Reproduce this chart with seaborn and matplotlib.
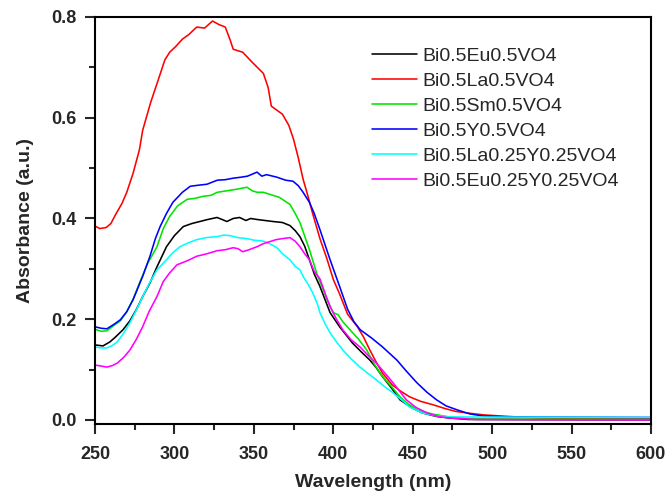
import pandas as pd
import seaborn as sns
import matplotlib.pyplot as plt
from matplotlib.ticker import AutoMinorLocator, MultipleLocator

# Données (longueur d'onde en nm, absorbance en u.a.)
names = ['Bi0.5Eu0.5VO4', 'Bi0.5La0.5VO4', 'Bi0.5Sm0.5VO4', 'Bi0.5Y0.5VO4',
         'Bi0.5La0.25Y0.25VO4', 'Bi0.5Eu0.25Y0.25VO4']
colors = ['#000000', '#ff0000', '#00e600', '#0000ff', '#00ffff', '#ff00ff']

wl_eu = [250, 255, 259.4, 263, 267.6, 272, 276, 280, 284.6, 289, 295, 300, 305.6, 311, 316, 321,
         326.8, 330, 333, 337, 341, 345, 348, 352, 357, 362, 368, 372.7, 376, 379, 382, 385, 388,
         391.6, 398, 404, 412, 418, 423, 427, 431, 437, 442, 449, 456, 465, 473, 485, 600]
abs_eu = [0.149, 0.147, 0.155, 0.165, 0.179, 0.197, 0.219, 0.245, 0.272, 0.304, 0.344, 0.366,
          0.384, 0.39, 0.394, 0.398, 0.402, 0.398, 0.394, 0.4, 0.402, 0.396, 0.4, 0.398, 0.396,
          0.394, 0.392, 0.386, 0.376, 0.364, 0.345, 0.318, 0.29, 0.265, 0.213, 0.185, 0.153,
          0.134, 0.119, 0.104, 0.086, 0.062, 0.04, 0.025, 0.014, 0.007, 0.004, 0.001, 0.0]

wl_la = [250, 253, 257, 260, 263, 267, 270, 274, 278, 280, 285, 290, 294, 297, 301, 305, 309,
         314, 319, 324, 328, 332, 335, 337, 343, 349, 356, 359, 361, 368, 372, 375, 378, 381,
         384, 387, 391.6, 396, 400, 404, 409, 415, 419, 423, 427, 431, 437, 442, 448, 455, 463,
         470, 477, 484, 495, 505, 516, 530, 560, 600]
abs_la = [0.385, 0.38, 0.382, 0.39, 0.408, 0.43, 0.452, 0.49, 0.537, 0.575, 0.63, 0.677, 0.715,
          0.73, 0.742, 0.756, 0.765, 0.78, 0.778, 0.792, 0.785, 0.78, 0.755, 0.736, 0.73, 0.71,
          0.688, 0.66, 0.623, 0.607, 0.585, 0.557, 0.52, 0.478, 0.445, 0.41, 0.36, 0.32, 0.279,
          0.25, 0.21, 0.186, 0.165, 0.139, 0.115, 0.093, 0.07, 0.058, 0.046, 0.037, 0.03, 0.023,
          0.017, 0.014, 0.01, 0.008, 0.006, 0.004, 0.003, 0.003]

wl_sm = [250, 254, 257.5, 262, 266, 270, 274, 278, 283, 289, 293, 297, 302, 308, 313, 318, 323,
         327, 333, 339, 345.7, 349, 352, 356, 360, 366, 372.7, 376, 379, 382, 385, 389.7, 396,
         400, 403, 406, 410.5, 416, 421, 426, 431, 437, 442, 447, 453, 462, 473, 490, 600]
abs_sm = [0.18, 0.176, 0.177, 0.188, 0.197, 0.215, 0.24, 0.272, 0.31, 0.344, 0.38, 0.404, 0.425,
          0.438, 0.44, 0.444, 0.446, 0.452, 0.455, 0.458, 0.462, 0.455, 0.452, 0.452, 0.448,
          0.442, 0.428, 0.41, 0.392, 0.365, 0.338, 0.29, 0.239, 0.213, 0.209, 0.195, 0.179, 0.16,
          0.139, 0.11, 0.086, 0.065, 0.046, 0.032, 0.02, 0.012, 0.006, 0.002, 0.001]

wl_y = [250, 254, 257.5, 262, 266, 270, 274, 277, 280, 284.6, 288, 291, 295, 299, 305, 310, 315,
        320.5, 327, 332, 337, 342, 346, 352, 355, 358, 364.5, 370, 374.6, 378, 381, 385, 388,
        391.6, 398, 404, 409, 413, 417, 424, 431, 440, 446, 452.6, 459, 465, 471, 478, 486, 494,
        510, 600]
abs_y = [0.185, 0.182, 0.181, 0.19, 0.199, 0.215, 0.239, 0.262, 0.285, 0.325, 0.36, 0.384, 0.41,
         0.432, 0.452, 0.464, 0.466, 0.468, 0.476, 0.477, 0.48, 0.482, 0.484, 0.492, 0.484,
         0.487, 0.482, 0.476, 0.474, 0.465, 0.452, 0.432, 0.41, 0.378, 0.318, 0.265, 0.22, 0.195,
         0.179, 0.163, 0.145, 0.119, 0.097, 0.074, 0.055, 0.04, 0.028, 0.02, 0.012, 0.008, 0.006,
         0.005]

wl_lay = [250, 254, 257.5, 261, 264, 268, 272, 276, 280, 284, 289, 295, 299, 303.5, 309, 314, 320,
          326.8, 331, 335, 340, 345.7, 350, 356, 360, 364.5, 368, 372.7, 376, 379, 381, 384, 387,
          390, 391.6, 395, 398, 402, 406, 411, 416.8, 422, 427, 432, 437.6, 443, 448, 456, 465,
          473, 600]
abs_lay = [0.145, 0.143, 0.143, 0.148, 0.155, 0.172, 0.193, 0.218, 0.245, 0.27, 0.298, 0.318,
           0.332, 0.344, 0.352, 0.358, 0.362, 0.364, 0.367, 0.366, 0.362, 0.36, 0.357, 0.355,
           0.35, 0.342, 0.33, 0.318, 0.305, 0.298, 0.285, 0.27, 0.253, 0.23, 0.213, 0.19, 0.173,
           0.155, 0.139, 0.122, 0.105, 0.092, 0.08, 0.067, 0.054, 0.04, 0.026, 0.014, 0.008, 0.006,
           0.005]

wl_euy = [250, 254, 257.5, 261, 264, 268, 272, 276, 280, 284, 289, 293, 297, 301.6, 308, 314,
          320.5, 326.8, 332, 337, 340, 343, 347, 352, 356, 360, 364, 368, 372.7, 376, 379, 382,
          385, 388, 391.6, 395, 398, 402, 406, 411, 416.8, 422, 427, 432, 437.6, 442, 446, 452,
          459, 466, 473, 490, 600]
abs_euy = [0.109, 0.107, 0.105, 0.108, 0.113, 0.124, 0.139, 0.16, 0.185, 0.215, 0.245, 0.275,
           0.292, 0.308, 0.316, 0.325, 0.33, 0.336, 0.338, 0.342, 0.34, 0.334, 0.338, 0.344, 0.35,
           0.354, 0.358, 0.36, 0.362, 0.355, 0.344, 0.33, 0.318, 0.295, 0.28, 0.25, 0.225, 0.2,
           0.179, 0.16, 0.145, 0.128, 0.113, 0.095, 0.074, 0.056, 0.04, 0.025, 0.014, 0.007, 0.004,
           0.001, 0.0]

wls = [wl_eu, wl_la, wl_sm, wl_y, wl_lay, wl_euy]
absorb = [abs_eu, abs_la, abs_sm, abs_y, abs_lay, abs_euy]

# Mise en forme longue pour seaborn
frames = []
for name, wl, ab in zip(names, wls, absorb):
    frames.append(pd.DataFrame({'wl': wl, 'abs': ab, 'sample': name}))
df = pd.concat(frames, ignore_index=True)

sns.set_style('ticks')
plt.rcParams['font.family'] = ['Liberation Sans', 'DejaVu Sans']

fig = plt.figure(figsize=(6.7, 4.94), dpi=100)
ax = fig.add_axes([0.1418, 0.1417, 0.8298, 0.8239])

sns.lineplot(data=df, x='wl', y='abs', hue='sample', hue_order=names,
             palette=dict(zip(names, colors)), sort=False, estimator=None,
             linewidth=1.15, ax=ax)

ax.set_xlim(250, 600)
ax.set_ylim(-0.008, 0.8)
ax.xaxis.set_major_locator(MultipleLocator(50))
ax.yaxis.set_major_locator(MultipleLocator(0.2))
ax.xaxis.set_minor_locator(AutoMinorLocator(2))
ax.yaxis.set_minor_locator(AutoMinorLocator(2))
ax.yaxis.set_major_formatter(plt.FormatStrFormatter('%.1f'))

for s in ax.spines.values():
    s.set_linewidth(1.5)
    s.set_color('black')
ax.tick_params(axis='x', which='major', pad=9)
ax.tick_params(axis='y', which='major', pad=6)
ax.tick_params(which='major', direction='out', length=7, width=1.5, labelsize=13)
ax.tick_params(which='minor', direction='out', length=4.5, width=1.5)
for lab in ax.get_xticklabels() + ax.get_yticklabels():
    lab.set_fontweight('bold')

ax.set_xlabel('Wavelength (nm)', fontsize=14, fontweight='bold', labelpad=8)
ax.set_ylabel('Absorbance (a.u.)', fontsize=14, fontweight='bold', labelpad=13)

ax.legend(loc='upper left', bbox_to_anchor=(0.498, 0.925), frameon=False,
          fontsize=14, handlelength=2.3, handletextpad=0.3, labelspacing=0.38,
          borderpad=0, borderaxespad=0)

fig.savefig('out.png', dpi=100)
